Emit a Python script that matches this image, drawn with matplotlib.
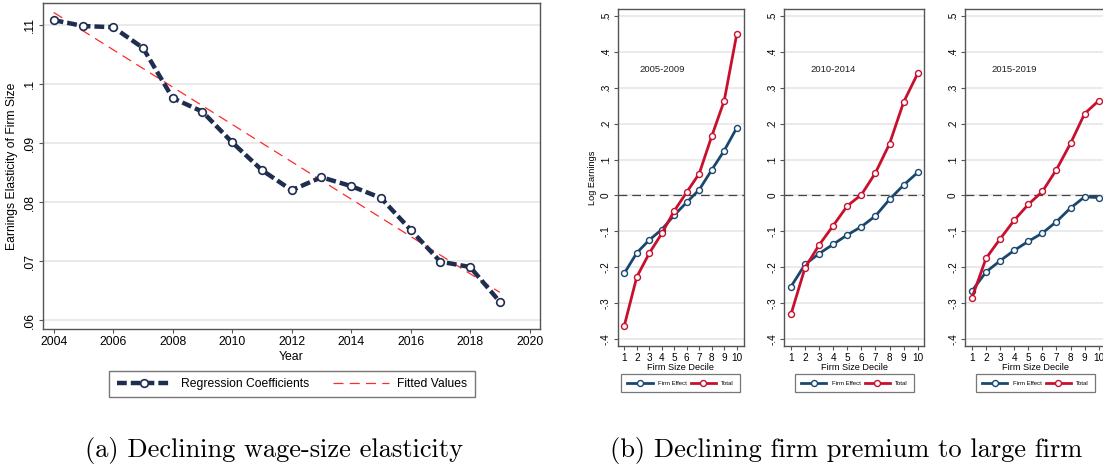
import numpy as np
import matplotlib
matplotlib.use("Agg")
import matplotlib.pyplot as plt

plt.rcParams['font.family'] = ['Liberation Sans', 'DejaVu Sans']

# panel (a): elasticity by year
years = [2004, 2005, 2006, 2007, 2008, 2009, 2010, 2011,
         2012, 2013, 2014, 2015, 2016, 2017, 2018, 2019]
coefs = [0.1108, 0.1098, 0.1096, 0.1061, 0.0976, 0.0953, 0.0901, 0.0854,
         0.0820, 0.0842, 0.0827, 0.0807, 0.0753, 0.0699, 0.0690, 0.0631]
fit_years = [2004, 2019]
fit_vals = [0.1121, 0.0647]
a_yticks = [0.06, 0.07, 0.08, 0.09, 0.10, 0.11]
a_ylabels = ['.06', '.07', '.08', '.09', '.1', '.11']
a_xticks = [2004, 2006, 2008, 2010, 2012, 2014, 2016, 2018, 2020]

# panel (b): firm premium by size decile
deciles = [1, 2, 3, 4, 5, 6, 7, 8, 9, 10]
periods = ['2005-2009', '2010-2014', '2015-2019']
firm_effect = [
    [-0.217, -0.160, -0.124, -0.095, -0.055, -0.019, 0.016, 0.071, 0.125, 0.188],
    [-0.254, -0.192, -0.162, -0.136, -0.110, -0.087, -0.057, -0.011, 0.029, 0.064],
    [-0.266, -0.213, -0.182, -0.153, -0.128, -0.105, -0.073, -0.035, -0.004, -0.006],
]
total = [
    [-0.363, -0.227, -0.161, -0.106, -0.043, 0.009, 0.061, 0.165, 0.264, 0.449],
    [-0.331, -0.201, -0.138, -0.084, -0.029, 0.002, 0.063, 0.144, 0.260, 0.340],
    [-0.285, -0.175, -0.121, -0.069, -0.025, 0.011, 0.072, 0.145, 0.228, 0.264],
]
b_yticks = [-0.4, -0.3, -0.2, -0.1, 0.0, 0.1, 0.2, 0.3, 0.4, 0.5]
b_ylabels = ['-.4', '-.3', '-.2', '-.1', '0', '.1', '.2', '.3', '.4', '.5']

navy = '#1f2d50'
blue = '#1a476f'
crimson = '#c8102e'
frame = '#555555'
grid = '#e6e6e6'

W, H = 1103, 471
fig = plt.figure(figsize=(W / 100, H / 100), dpi=100)


def px_axes(x0, x1, ytop, ybot):
    return fig.add_axes([x0 / W, 1 - ybot / H, (x1 - x0) / W, (ybot - ytop) / H])


def style(ax, fs):
    for s in ax.spines.values():
        s.set_color(frame)
        s.set_linewidth(1.0)
    ax.tick_params(direction='out', length=3, width=0.8, color=frame,
                   labelsize=fs, pad=2)
    ax.grid(axis='y', color=grid, lw=1.2)
    ax.set_axisbelow(True)


def frame_legend(leg, lw=1.0):
    leg.get_frame().set_edgecolor(frame)
    leg.get_frame().set_linewidth(lw)


# ---- left chart
ax = px_axes(43, 540, 3, 329)
style(ax, 8.8)
ax.plot(years, coefs, color=navy, lw=3.2, ls=(0, (2.2, 0.9)),
        marker='o', ms=5.5, mfc='white', mec=navy, mew=1.2,
        label='Regression Coefficients', zorder=3)
ax.plot(fit_years, fit_vals, color='#ff2a2a', lw=0.9, ls=(0, (8, 5)),
        label='Fitted Values', zorder=2)
ax.set_xlim(2003.64, 2020.35)
ax.set_ylim(0.0585, 0.1137)
ax.set_xticks(a_xticks)
ax.set_yticks(a_yticks)
ax.set_yticklabels(a_ylabels, rotation=90, va='center')
ax.set_xlabel('Year', fontsize=8.8, labelpad=2)
ax.set_ylabel('Earnings Elasticity of Firm Size', fontsize=8.7, labelpad=4)
h, l = ax.get_legend_handles_labels()
leg = fig.legend(h, l, loc='center', ncol=2, fontsize=8.7,
                 bbox_to_anchor=(292 / W, 1 - 384 / H),
                 handlelength=4.6, handletextpad=0.7, fancybox=False,
                 frameon=True, borderpad=0.6, columnspacing=2.0)
frame_legend(leg)

# ---- right panels
panels = [(617.7, 744.0, 624.3, 736.7), (784.3, 924.3, 791.0, 917.7),
          (965.0, 1105.0, 972.0, 1098.7)]
leg_centres = [680.8, 854.5, 1035.5]
for i, (x0, x1, p1, p10) in enumerate(panels):
    ax = px_axes(x0, x1, 9.3, 345.7)
    style(ax, 7.2)
    ax.axhline(0, color='#444444', lw=0.9, ls=(0, (7, 4)), zorder=1)
    ax.plot(deciles, firm_effect[i], color=blue, lw=2.0, marker='o', ms=4.3,
            mfc='white', mec=blue, mew=1.0, label='Firm Effect', zorder=3)
    ax.plot(deciles, total[i], color=crimson, lw=2.0, marker='o', ms=4.3,
            mfc='white', mec=crimson, mew=1.0, label='Total', zorder=3)
    unit = (p10 - p1) / 9
    ax.set_xlim(1 - (p1 - x0) / unit, 10 + (x1 - p10) / unit)
    ax.set_ylim(-0.4187, 0.5187)
    ax.set_xticks(deciles)
    ax.set_yticks(b_yticks)
    ax.set_yticklabels(b_ylabels, rotation=90, va='center')
    ax.set_xlabel('Firm Size Decile', fontsize=6.6, labelpad=0)
    if i == 0:
        ax.set_ylabel('Log Earnings', fontsize=6.6, labelpad=3)
    ax.text(4, 0.35, periods[i], fontsize=6.8, ha='center', va='center',
            color='#222222')
    h, l = ax.get_legend_handles_labels()
    leg = fig.legend(h, l, loc='center', ncol=2, fontsize=4.3,
                     bbox_to_anchor=(leg_centres[i] / W, 1 - 383 / H),
                     handlelength=4.2, handletextpad=0.9, fancybox=False,
                     frameon=True, borderpad=1.0, columnspacing=0.7)
    frame_legend(leg, 0.9)

# captions
fig.text(274 / W, 1 - 450 / H, '(a) Declining wage-size elasticity',
         family='cmr10', fontsize=19.0, ha='center', va='center')
fig.text(846 / W, 1 - 450 / H, '(b) Declining firm premium to large firm',
         family='cmr10', fontsize=19.0, ha='center', va='center')

fig.savefig('out.png', dpi=100)
